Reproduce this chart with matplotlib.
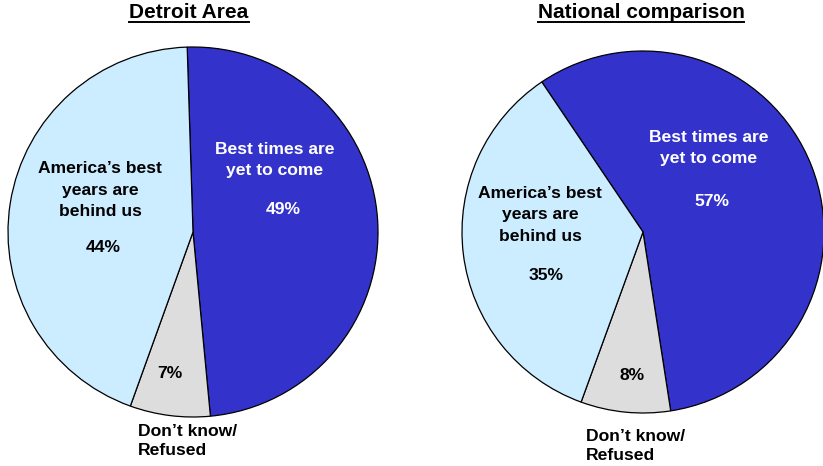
import matplotlib
matplotlib.use("Agg")
import matplotlib.pyplot as plt
from matplotlib.lines import Line2D

plt.rcParams['font.family'] = ['Liberation Sans', 'DejaVu Sans']

# Survey answers: "Are America's best years ahead or behind us?"
categories = ["Best times are\nyet to come", "Don\u2019t know/\nRefused", "America\u2019s best\nyears are\nbehind us"]
detroit = [49, 7, 44]
national = [57, 8, 35]
titles = ["Detroit Area", "National comparison"]

colors = ["#3333CC", "#DDDDDD", "#CCECFF"]

W, H = 823, 466
fig = plt.figure(figsize=(W / 100, H / 100), dpi=100)
ax = fig.add_axes([0, 0, 1, 1])


def Y(y):
    return H - y


pies = [
    dict(values=detroit, center=(193, Y(232)), radius=185, start=91.8, title_x=189,
         best_pos=(275, 160), best_pct=(283, 209),
         behind_pos=(100, 190), behind_pct=(103, 248),
         dk_pct=(170, 373), dk_lab=(138, 441)),
    dict(values=national, center=(643, Y(232)), radius=181, start=124.0, title_x=641,
         best_pos=(709, 148), best_pct=(712, 202),
         behind_pos=(540, 215), behind_pct=(546, 275),
         dk_pct=(632, 376), dk_lab=(586, 446)),
]

fs = 12.6
for p in pies:
    ax.pie(p["values"], colors=colors, startangle=p["start"], counterclock=False,
           center=p["center"], radius=p["radius"], frame=True,
           wedgeprops=dict(edgecolor="black", linewidth=0.9))
    v = p["values"]
    ax.text(p["best_pos"][0], Y(p["best_pos"][1]), categories[0], color="white",
            fontsize=fs, fontweight="bold", ha="center", va="center", linespacing=1.55)
    ax.text(p["best_pct"][0], Y(p["best_pct"][1]), f"{v[0]}%", color="white",
            fontsize=fs, fontweight="bold", ha="center", va="center")
    ax.text(p["behind_pos"][0], Y(p["behind_pos"][1]), categories[2], color="black",
            fontsize=fs, fontweight="bold", ha="center", va="center", linespacing=1.55)
    ax.text(p["behind_pct"][0], Y(p["behind_pct"][1]), f"{v[2]}%", color="black",
            fontsize=fs, fontweight="bold", ha="center", va="center")
    ax.text(p["dk_pct"][0], Y(p["dk_pct"][1]), f"{v[1]}%", color="black",
            fontsize=fs, fontweight="bold", ha="center", va="center")
    ax.text(p["dk_lab"][0], Y(p["dk_lab"][1]), categories[1], color="black",
            fontsize=fs, fontweight="bold", ha="left", va="center", linespacing=1.4)

ax.set_xlim(0, W)
ax.set_ylim(0, H)
ax.set_aspect("equal")
ax.axis("off")

# underlined panel titles
title_artists = []
for p, title in zip(pies, titles):
    t = fig.text(p["title_x"] / W, Y(13) / H, title, fontsize=15, fontweight="bold",
                 ha="center", va="center", color="black")
    title_artists.append(t)

fig.canvas.draw()
renderer = fig.canvas.get_renderer()
for t in title_artists:
    bb = t.get_window_extent(renderer=renderer)
    uy = bb.y0 + 1.0
    fig.add_artist(Line2D([bb.x0 / W, bb.x1 / W], [uy / H, uy / H],
                          transform=fig.transFigure, color="black", linewidth=1.4))

fig.savefig("out.png", dpi=100, facecolor="white")
